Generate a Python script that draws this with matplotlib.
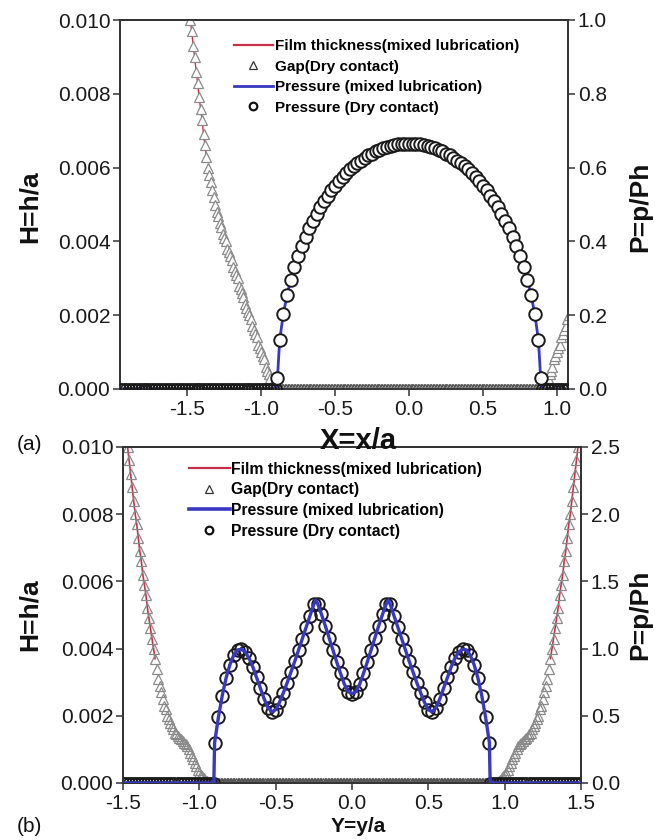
import numpy as np
import matplotlib
matplotlib.use("Agg")
import matplotlib.pyplot as plt
from matplotlib.lines import Line2D

plt.rcParams['font.family'] = ['Liberation Sans', 'DejaVu Sans']

# ---------------- (a) section along X ----------------
# dry-contact pressure inside the contact zone
xa_contact = [-0.89, -0.875, -0.85, -0.825, -0.8, -0.775, -0.75, -0.725, -0.7, -0.675,
              -0.65, -0.625, -0.6, -0.575, -0.55, -0.525, -0.5, -0.475, -0.45, -0.425,
              -0.4, -0.375, -0.35, -0.325, -0.3, -0.275, -0.25, -0.225, -0.2, -0.175,
              -0.15, -0.125, -0.1, -0.075, -0.05, -0.025, 0.0, 0.025, 0.05, 0.075,
              0.1, 0.125, 0.15, 0.175, 0.2, 0.225, 0.25, 0.275, 0.3, 0.325,
              0.35, 0.375, 0.4, 0.425, 0.45, 0.475, 0.5, 0.525, 0.55, 0.575,
              0.6, 0.625, 0.65, 0.675, 0.7, 0.725, 0.75, 0.775, 0.8, 0.825,
              0.85, 0.875, 0.89]
pa_dry = [0.03, 0.133, 0.204, 0.255, 0.296, 0.330, 0.361, 0.388, 0.413, 0.435,
          0.456, 0.475, 0.493, 0.509, 0.524, 0.538, 0.551, 0.563, 0.574, 0.585,
          0.595, 0.604, 0.612, 0.619, 0.626, 0.633, 0.638, 0.644, 0.648, 0.652,
          0.656, 0.659, 0.661, 0.663, 0.664, 0.665, 0.665, 0.665, 0.664, 0.663,
          0.661, 0.659, 0.656, 0.652, 0.648, 0.644, 0.638, 0.633, 0.626, 0.619,
          0.612, 0.604, 0.595, 0.585, 0.574, 0.563, 0.551, 0.538, 0.524, 0.509,
          0.493, 0.475, 0.456, 0.435, 0.413, 0.388, 0.361, 0.330, 0.296, 0.255,
          0.204, 0.133, 0.03]
xa_edge = [-0.90, 0.90]          # contact edges (pressure falls to zero)

# dry-contact gap outside the contact zone
xa_gap_left = [-1.48, -1.47, -1.46, -1.45, -1.44, -1.43, -1.42, -1.41, -1.40, -1.39,
               -1.38, -1.37, -1.36, -1.35, -1.34, -1.33, -1.32, -1.31, -1.30, -1.29,
               -1.28, -1.27, -1.26, -1.25, -1.24, -1.23, -1.22, -1.21, -1.20, -1.19,
               -1.18, -1.17, -1.16, -1.15, -1.14, -1.13, -1.12, -1.11, -1.10, -1.09,
               -1.08, -1.07, -1.06, -1.05, -1.04, -1.03, -1.02, -1.01, -1.00, -0.99,
               -0.98, -0.97, -0.96, -0.95, -0.94, -0.93, -0.92]
ha_gap_left = [0.0100, 0.0097, 0.0093, 0.0090, 0.0086, 0.0083, 0.0079, 0.0076, 0.0073, 0.0069,
               0.0066, 0.0063, 0.0060, 0.0058, 0.0056, 0.0054, 0.0052, 0.0050, 0.0048, 0.0047,
               0.0045, 0.0044, 0.0042, 0.0041, 0.0040, 0.0038, 0.0037, 0.0036, 0.0035, 0.0033,
               0.0032, 0.0031, 0.0030, 0.0028, 0.0027, 0.0026, 0.0025, 0.0023, 0.0022, 0.0021,
               0.0020, 0.0019, 0.0017, 0.0016, 0.0015, 0.0014, 0.0012, 0.0011, 0.0010, 0.0009,
               0.0008, 0.0006, 0.0005, 0.0004, 0.0003, 0.0001, 0.0000]
xa_gap_right = [0.92, 0.93, 0.94, 0.95, 0.96, 0.97, 0.98, 0.99, 1.00, 1.01,
                1.02, 1.03, 1.04, 1.05, 1.06, 1.07, 1.08]
ha_gap_right = [0.0000, 0.0001, 0.0003, 0.0004, 0.0005, 0.0006, 0.0008, 0.0009, 0.0010, 0.0011,
                0.0012, 0.0014, 0.0015, 0.0016, 0.0017, 0.0019, 0.0020]
xa_lim = (-1.955, 1.075)

# ---------------- (b) section along Y ----------------
yb_contact = [-0.9, -0.875, -0.85, -0.825, -0.8, -0.775, -0.75, -0.725, -0.7, -0.675,
              -0.65, -0.625, -0.6, -0.575, -0.55, -0.525, -0.5, -0.475, -0.45, -0.425,
              -0.4, -0.375, -0.35, -0.325, -0.3, -0.275, -0.25, -0.225, -0.2, -0.175,
              -0.15, -0.125, -0.1, -0.075, -0.05, -0.025, 0.0, 0.025, 0.05, 0.075,
              0.1, 0.125, 0.15, 0.175, 0.2, 0.225, 0.25, 0.275, 0.3, 0.325,
              0.35, 0.375, 0.4, 0.425, 0.45, 0.475, 0.5, 0.525, 0.55, 0.575,
              0.6, 0.625, 0.65, 0.675, 0.7, 0.725, 0.75, 0.775, 0.8, 0.825,
              0.85, 0.875, 0.9]
pb_dry = [0.300, 0.490, 0.650, 0.780, 0.880, 0.950, 0.990, 0.995, 0.975, 0.930,
          0.865, 0.785, 0.705, 0.625, 0.560, 0.530, 0.545, 0.600, 0.670, 0.745,
          0.825, 0.905, 0.990, 1.075, 1.160, 1.245, 1.330, 1.335, 1.255, 1.170,
          1.080, 0.990, 0.900, 0.815, 0.735, 0.680, 0.665, 0.680, 0.735, 0.815,
          0.900, 0.990, 1.080, 1.170, 1.255, 1.335, 1.330, 1.245, 1.160, 1.075,
          0.990, 0.905, 0.825, 0.745, 0.670, 0.600, 0.545, 0.530, 0.560, 0.625,
          0.705, 0.785, 0.865, 0.930, 0.975, 0.995, 0.990, 0.950, 0.880, 0.780,
          0.650, 0.490, 0.300]
yb_peaks = [-0.2375, 0.2375]     # sharp crests of the mixed-lubrication pressure
pb_peaks = [1.36, 1.36]
yb_edge = [-0.905, 0.905]

yb_gap_left = [-1.47, -1.46, -1.45, -1.44, -1.43, -1.42, -1.41, -1.40, -1.39, -1.38,
               -1.37, -1.36, -1.35, -1.34, -1.33, -1.32, -1.31, -1.30, -1.29, -1.28,
               -1.27, -1.26, -1.25, -1.24, -1.23, -1.22, -1.21, -1.20, -1.19, -1.18,
               -1.17, -1.16, -1.15, -1.14, -1.13, -1.12, -1.11, -1.10, -1.09, -1.08,
               -1.07, -1.06, -1.05, -1.04, -1.03, -1.02, -1.01, -1.00, -0.99, -0.98,
               -0.97, -0.96, -0.95, -0.94]
hb_gap_left = [0.0100, 0.0096, 0.0092, 0.0088, 0.0084, 0.0080, 0.0077, 0.0073, 0.0069, 0.0066,
               0.0062, 0.0059, 0.0056, 0.0052, 0.0049, 0.0046, 0.0043, 0.0040, 0.0037, 0.0034,
               0.0031, 0.0029, 0.0027, 0.0025, 0.0023, 0.0022, 0.0020, 0.0019, 0.0018, 0.0017,
               0.0016, 0.0015, 0.00145, 0.0014, 0.00135, 0.0013, 0.00125, 0.0012, 0.00115, 0.0011,
               0.0010, 0.0009, 0.0008, 0.0007, 0.0006, 0.0005, 0.0004, 0.0003, 0.00025, 0.0002,
               0.00015, 0.0001, 0.00005, 0.0]
yb_gap_right = [0.95, 0.96, 0.97, 0.98, 0.99, 1.00, 1.01, 1.02, 1.03, 1.04,
                1.05, 1.06, 1.07, 1.08, 1.09, 1.10, 1.11, 1.12, 1.13, 1.14,
                1.15, 1.16, 1.17, 1.18, 1.19, 1.20, 1.21, 1.22, 1.23, 1.24,
                1.25, 1.26, 1.27, 1.28, 1.29, 1.30, 1.31, 1.32, 1.33, 1.34,
                1.35, 1.36, 1.37, 1.38, 1.39, 1.40, 1.41, 1.42, 1.43, 1.44,
                1.45, 1.46, 1.47, 1.48]
hb_gap_right = [0.0, 0.00005, 0.0001, 0.00015, 0.0002, 0.00025, 0.0003, 0.0004, 0.0005, 0.0006,
                0.0007, 0.0008, 0.0009, 0.0010, 0.0011, 0.00115, 0.0012, 0.00125, 0.0013, 0.00135,
                0.0014, 0.00145, 0.0015, 0.0016, 0.0017, 0.0018, 0.0019, 0.0020, 0.0022, 0.0023,
                0.0025, 0.0027, 0.0029, 0.0031, 0.0034, 0.0037, 0.0040, 0.0043, 0.0046, 0.0049,
                0.0052, 0.0056, 0.0059, 0.0062, 0.0066, 0.0069, 0.0073, 0.0077, 0.0080, 0.0084,
                0.0088, 0.0092, 0.0096, 0.0100]
yb_lim = (-1.5, 1.5)

# axis ticks
h_ticks = [0.000, 0.002, 0.004, 0.006, 0.008, 0.010]
pa_ticks = [0.0, 0.2, 0.4, 0.6, 0.8, 1.0]
pb_ticks = [0.0, 0.5, 1.0, 1.5, 2.0, 2.5]
xa_ticks = [-1.5, -1.0, -0.5, 0.0, 0.5, 1.0]
yb_ticks = [-1.5, -1.0, -0.5, 0.0, 0.5, 1.0, 1.5]

legend_labels = ["Film thickness(mixed lubrication)", "Gap(Dry contact)",
                 "Pressure (mixed lubrication)", "Pressure (Dry contact)"]

RED = "#c8304a"
BLUE = "#3838c0"
TRI = "#8a8a8a"
CIRC = "#1a1a1a"
FRAME = "#333333"


def zero_grid(lo, hi, step):
    n = int(round((hi - lo) / step)) + 1
    return np.linspace(lo, hi, n)


def style_axes(ax, ax2, xticks, hticks, pticks, plim, xlim):
    ax.set_xlim(*xlim)
    ax.set_ylim(0, 0.010)
    ax2.set_ylim(*plim)
    ax.set_xticks(xticks)
    ax.set_xticklabels([f"{t:.1f}" for t in xticks])
    ax.set_yticks(hticks)
    ax.set_yticklabels([f"{t:.3f}" for t in hticks])
    ax2.set_yticks(pticks)
    ax2.set_yticklabels([f"{t:.1f}" for t in pticks])
    for a in (ax, ax2):
        for s in a.spines.values():
            s.set_color(FRAME)
            s.set_linewidth(1.3)
        a.tick_params(direction="out", length=5, width=1.1, color=FRAME,
                      labelsize=15, labelcolor="#1a1a1a", pad=2)
    ax.tick_params(axis="x", pad=3)


fig = plt.figure(figsize=(6.62, 8.4), dpi=100)
fig.patch.set_facecolor("white")

# ===== panel (a) =====
ax = fig.add_axes([120 / 662, 1 - 389 / 840, 448 / 662, 369 / 840])
ax2 = ax.twinx()

xa_gap = np.array(xa_gap_left + xa_gap_right)
ha_gap = np.array(ha_gap_left + ha_gap_right)
xa_zero_gap = zero_grid(xa_gap_left[-1], xa_gap_right[0], 0.01)
film_mask = np.array(ha_gap_left) >= 0.0062
ax.plot(np.array(xa_gap_left)[film_mask], np.array(ha_gap_left)[film_mask],
        color=RED, lw=1.0, zorder=2)
ax.plot(xa_gap, ha_gap, ls="none", marker="^", ms=6.5, mfc="white",
        mec=TRI, mew=0.9, zorder=3)
ax.plot(xa_zero_gap, np.zeros_like(xa_zero_gap), ls="none", marker="^", ms=6.5,
        mfc="white", mec="#555555", mew=0.9, zorder=3)

xa_out = np.concatenate([zero_grid(xa_lim[0], xa_edge[0], 0.02),
                         zero_grid(xa_edge[1], xa_lim[1], 0.02)])
xa_line = [xa_lim[0], xa_edge[0]] + xa_contact + [xa_edge[1], xa_lim[1]]
pa_line = [0.0, 0.0] + pa_dry + [0.0, 0.0]
ax2.plot(xa_line, pa_line, color=BLUE, lw=2.0, zorder=2)
ax2.plot(xa_out, np.zeros_like(xa_out), ls="none", marker="o", ms=8, mfc="none",
         mec=CIRC, mew=1.2, zorder=3)
ax2.plot(xa_contact, pa_dry, ls="none", marker="o", ms=9, mfc="white",
         mec=CIRC, mew=1.4, zorder=3)

style_axes(ax, ax2, xa_ticks, h_ticks, pa_ticks, (0, 1.0), xa_lim)

# ===== panel (b) =====
bx = fig.add_axes([123 / 662, 1 - 783 / 840, 458 / 662, 336 / 840])
bx2 = bx.twinx()

yb_gap = np.array(yb_gap_left + yb_gap_right)
hb_gap = np.array(hb_gap_left + hb_gap_right)
yb_zero_gap = zero_grid(yb_gap_left[-1], yb_gap_right[0], 0.01)
for ys, hs in ((yb_gap_left, hb_gap_left), (yb_gap_right, hb_gap_right)):
    ys = np.array(ys)
    hs = np.array(hs)
    m = hs >= 0.0036
    bx.plot(ys[m], hs[m], color=RED, lw=1.2, zorder=2)
bx.plot(yb_gap, hb_gap, ls="none", marker="^", ms=6.5, mfc="none",
        mec=TRI, mew=0.9, zorder=3)
bx.plot(yb_zero_gap, np.zeros_like(yb_zero_gap), ls="none", marker="^", ms=6.5,
        mfc="none", mec="#555555", mew=0.9, zorder=3)

yb_out = np.concatenate([zero_grid(yb_lim[0], yb_edge[0], 0.02),
                         zero_grid(yb_edge[1], yb_lim[1], 0.02)])
order = np.argsort(np.array(yb_contact + yb_peaks))
yb_mixed = np.array(yb_contact + yb_peaks)[order]
pb_mixed = np.array(pb_dry + pb_peaks)[order]
yb_line = np.concatenate([[yb_lim[0], yb_edge[0]], yb_mixed, [yb_edge[1], yb_lim[1]]])
pb_line = np.concatenate([[0.0, 0.0], pb_mixed, [0.0, 0.0]])
bx2.plot(yb_out, np.zeros_like(yb_out), ls="none", marker="o", ms=8, mfc="none",
         mec=CIRC, mew=1.2, zorder=2)
bx2.plot(yb_contact, pb_dry, ls="none", marker="o", ms=9, mfc="none",
         mec=CIRC, mew=1.4, zorder=2)
bx2.plot(yb_line, pb_line, color=BLUE, lw=2.4, zorder=3)

style_axes(bx, bx2, yb_ticks, h_ticks, pb_ticks, (0, 2.5), yb_lim)

# ===== legends =====
def legend_handles(lw_blue):
    return [Line2D([], [], color=RED, lw=1.6),
            Line2D([], [], ls="none", marker="^", ms=6, mfc="none", mec="#333333", mew=0.9),
            Line2D([], [], color=BLUE, lw=lw_blue),
            Line2D([], [], ls="none", marker="o", ms=5.5, mfc="none", mec="#111111", mew=1.6)]

leg_kw = dict(frameon=False, handlelength=2.6, handletextpad=0.1,
              borderaxespad=0.0, loc="upper left")
ax2.legend(legend_handles(2.0), legend_labels, bbox_to_anchor=(0.24, 0.964),
           prop={"weight": "bold", "size": 11}, labelspacing=0.42, **leg_kw)
bx2.legend(legend_handles(2.6), legend_labels, bbox_to_anchor=(0.13, 0.975),
           prop={"weight": "bold", "size": 11.3}, labelspacing=0.36, **leg_kw)

# ===== axis titles and panel tags =====
lab = dict(fontsize=19, fontweight="bold", color="#111111")
fig.text(30 / 662, 1 - 207 / 840, "H=h/a", rotation=90, ha="center", va="center", **lab)
fig.text(640 / 662, 1 - 207 / 840, "P=p/Ph", rotation=90, ha="center", va="center", **lab)
fig.text(30 / 662, 1 - 615 / 840, "H=h/a", rotation=90, ha="center", va="center", **lab)
fig.text(640 / 662, 1 - 615 / 840, "P=p/Ph", rotation=90, ha="center", va="center", **lab)
fig.text(358 / 662, 1 - 441 / 840, "X=x/a", ha="center", va="center",
         fontsize=21, fontweight="bold", color="#111111")
fig.text(358 / 662, 1 - 826 / 840, "Y=y/a", ha="center", va="center",
         fontsize=15, fontweight="bold", color="#111111")
fig.text(29 / 662, 1 - 444 / 840, "(a)", ha="center", va="center", fontsize=15, color="#111111")
fig.text(29 / 662, 1 - 827 / 840, "(b)", ha="center", va="center", fontsize=15, color="#111111")

fig.savefig("out.png", dpi=100, facecolor="white")
